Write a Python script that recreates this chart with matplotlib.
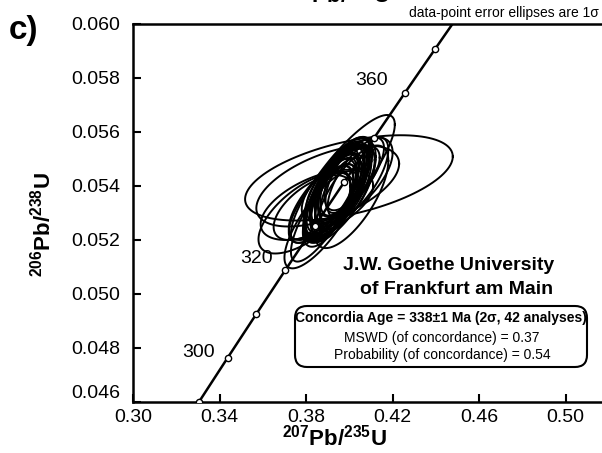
import numpy as np
import matplotlib
matplotlib.use("Agg")
import matplotlib.pyplot as plt
from matplotlib.patches import FancyBboxPatch

plt.rcParams['font.family'] = ['Liberation Sans', 'DejaVu Sans']
plt.rcParams['mathtext.fontset'] = 'custom'
plt.rcParams['mathtext.rm'] = 'Liberation Sans'
plt.rcParams['mathtext.bf'] = 'Liberation Sans:bold'

# decay constants (1/yr)
lam238 = 1.55125e-10
lam235 = 9.8485e-10

# concordia tick ages (Ma) and the labelled ones
tick_ages = [290, 300, 310, 320, 330, 340, 350, 360, 370, 380]
label_ages = [300, 320, 360]
label_offsets = [(-21, 4), (-21, 8), (-24, 9)]   # points

# analyses: 207Pb/235U, 1s, 206Pb/238U, 1s, error correlation
pb207_u235 = [0.3935, 0.3950, 0.3920, 0.3960, 0.3940, 0.3900, 0.3980, 0.3945, 0.3928, 0.3968,
              0.3908, 0.3955, 0.3990, 0.3922, 0.3948, 0.3936, 0.3972, 0.3895, 0.3960, 0.3942,
              0.3912, 0.3995, 0.3952, 0.3930, 0.3965, 0.3925, 0.3946, 0.3982,
              0.3998, 0.3900, 0.3970, 0.4010, 0.3800, 0.3850, 0.3870, 0.4000, 0.3920, 0.4040,
              0.3880, 0.3960, 0.3830, 0.3940]
s207 = [0.0110, 0.0130, 0.0100, 0.0120, 0.0150, 0.0105, 0.0115, 0.0090, 0.0140, 0.0125,
        0.0110, 0.0135, 0.0100, 0.0120, 0.0160, 0.0095, 0.0130, 0.0110, 0.0105, 0.0145,
        0.0120, 0.0110, 0.0165, 0.0115, 0.0100, 0.0130, 0.0125, 0.0140,
        0.0480, 0.0330, 0.0240, 0.0170, 0.0220, 0.0260, 0.0170, 0.0200, 0.0200, 0.0140,
        0.0150, 0.0180, 0.0180, 0.0220]
pb206_u238 = [0.05385, 0.05395, 0.05345, 0.05415, 0.05370, 0.05325, 0.05435, 0.05390, 0.05355, 0.05405,
              0.05340, 0.05380, 0.05425, 0.05372, 0.05402, 0.05362, 0.05392, 0.05315, 0.05418, 0.05380,
              0.05350, 0.05445, 0.05370, 0.05395, 0.05378, 0.05360, 0.05408, 0.05400,
              0.05430, 0.05400, 0.05426, 0.05360, 0.05300, 0.05330, 0.05275, 0.05420, 0.05370, 0.05430,
              0.05300, 0.05410, 0.05320, 0.05385]
s206 = [0.00140, 0.00160, 0.00130, 0.00150, 0.00175, 0.00125, 0.00145, 0.00115, 0.00165, 0.00155,
        0.00135, 0.00160, 0.00125, 0.00145, 0.00180, 0.00120, 0.00155, 0.00140, 0.00130, 0.00170,
        0.00150, 0.00135, 0.00180, 0.00145, 0.00125, 0.00160, 0.00150, 0.00170,
        0.00158, 0.00150, 0.00237, 0.00190, 0.00150, 0.00130, 0.00180, 0.00160, 0.00170, 0.00150,
        0.00180, 0.00140, 0.00120, 0.00195]
rho = [0.62, 0.68, 0.60, 0.65, 0.70, 0.58, 0.64, 0.61, 0.69, 0.66,
       0.59, 0.67, 0.63, 0.65, 0.72, 0.60, 0.64, 0.62, 0.61, 0.68,
       0.63, 0.60, 0.70, 0.66, 0.59, 0.65, 0.67, 0.64,
       0.50, 0.55, 0.85, 0.70, 0.65, 0.55, 0.78, 0.65, 0.75, 0.70,
       0.80, 0.68, 0.60, 0.80]

x_ticks = [0.30, 0.34, 0.38, 0.42, 0.46, 0.50]
y_ticks = [0.046, 0.048, 0.050, 0.052, 0.054, 0.056, 0.058, 0.060]

fig = plt.figure(figsize=(6.02, 4.53), dpi=100)
ax = fig.add_axes([133 / 602, 51 / 453, 476 / 602, 378 / 453])

# concordia curve
t = np.linspace(250, 420, 400) * 1e6
ax.plot(np.exp(lam235 * t) - 1, np.exp(lam238 * t) - 1, color='black', lw=1.8, zorder=3)
ta = np.array(tick_ages) * 1e6
ax.plot(np.exp(lam235 * ta) - 1, np.exp(lam238 * ta) - 1, 'o', ms=4.5,
        mfc='white', mec='black', mew=1.0, zorder=4)
for age, off in zip(label_ages, label_offsets):
    xa = np.exp(lam235 * age * 1e6) - 1
    ya = np.exp(lam238 * age * 1e6) - 1
    ax.annotate(str(age), (xa, ya), xytext=off, textcoords='offset points',
                ha='center', va='center', fontsize=14)

# 1 sigma error ellipses
phi = np.linspace(0, 2 * np.pi, 120)
for x0, sx, y0, sy, r in zip(pb207_u235, s207, pb206_u238, s206, rho):
    ex = x0 + sx * np.cos(phi)
    ey = y0 + sy * (r * np.cos(phi) + np.sqrt(1 - r ** 2) * np.sin(phi))
    ax.plot(ex, ey, color='black', lw=1.4, zorder=2)

ax.set_xlim(0.30, 0.52)
ax.set_ylim(0.046, 0.060)
ax.set_xticks(x_ticks)
ax.set_xticklabels([f'{v:.2f}' for v in x_ticks])
ax.set_yticks(y_ticks)
ax.set_yticklabels([f'{v:.3f}' for v in y_ticks])
ax.tick_params(direction='in', length=6, width=1.5, labelsize=14)
ax.tick_params(axis='y', pad=9)
ax.tick_params(axis='x', pad=5)
ax.get_yticklabels()[0].set_va('bottom')
for s in ax.spines.values():
    s.set_linewidth(1.8)

ax.text(0.424, -0.093, r'$\mathbf{^{207}Pb/^{235}U}$', transform=ax.transAxes,
        ha='center', va='center', fontsize=16)
ax.text(-0.19, 0.47, r'$\mathbf{^{206}Pb/^{238}U}$', transform=ax.transAxes,
        ha='center', va='center', fontsize=16, rotation=90)

fig.text(24 / 602, 1 - 31 / 453, 'c)', fontsize=24, fontweight='bold', ha='center', va='center')
fig.text(337 / 602, 1 - 2 / 453, r'$\mathbf{^{207}Pb/^{235}U}$', fontsize=16,
         ha='center', va='baseline')
fig.text(599 / 602, 1 - 13 / 453, 'data-point error ellipses are 1σ',
         family=['Liberation Sans Narrow', 'Liberation Sans'], fontsize=10,
         ha='right', va='center')

fig.text(449 / 602, 1 - 266 / 453, 'J.W. Goethe University', fontsize=14,
         fontweight='bold', ha='center', va='center')
fig.text(457 / 602, 1 - 289 / 453, 'of Frankfurt am Main', fontsize=14,
         fontweight='bold', ha='center', va='center')

box = FancyBboxPatch((2.95, 0.86), 2.92, 0.61, boxstyle='round,pad=0,rounding_size=0.12',
                     transform=fig.dpi_scale_trans, fc='white', ec='black', lw=1.5)
fig.patches.append(box)
narrow = ['Liberation Sans Narrow', 'Liberation Sans']
fig.text(441 / 602, 1 - 318 / 453, 'Concordia Age = 338±1 Ma (2σ, 42 analyses)',
         family=narrow, fontsize=10, fontweight='bold', ha='center', va='center')
fig.text(442 / 602, 1 - 338 / 453, 'MSWD (of concordance) = 0.37',
         family=narrow, fontsize=10, ha='center', va='center')
fig.text(442 / 602, 1 - 355 / 453, 'Probability (of concordance) = 0.54',
         family=narrow, fontsize=10, ha='center', va='center')

fig.savefig('out.png', dpi=100)
